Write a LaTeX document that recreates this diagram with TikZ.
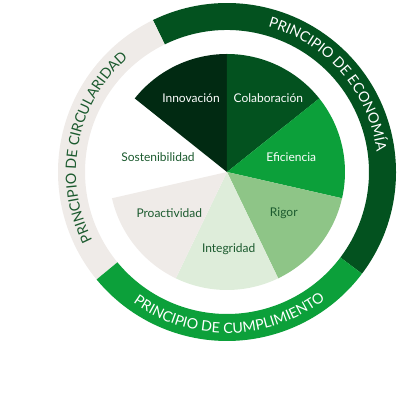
\documentclass[tikz,border=0pt]{standalone}
\usepackage{fontspec}
\setmainfont{Lato}
\usetikzlibrary{decorations.text}

\definecolor{negroverde}{HTML}{012A12}
\definecolor{verdeoscuro}{HTML}{03521F}
\definecolor{verdevivo}{HTML}{0CA03A}
\definecolor{verdemedio}{HTML}{8EC587}
\definecolor{verdeclaro}{HTML}{DEEDDA}
\definecolor{grisclaro}{HTML}{EFEBE8}
\definecolor{textoverde}{HTML}{1B5A2E}

\newcommand{\ringfont}{\fontsize{14.3}{16}\selectfont}

\begin{document}
\begin{tikzpicture}[x=1pt, y=1pt,
  lbl/.style={font=\fontsize{12}{14}\selectfont, inner sep=0pt},
  ringtext/.style 2 args={decorate, decoration={text along path, text align=center, text color=#1, text={|\ringfont|#2}}}]
  \useasboundingbox (-227,-229) rectangle (180,172);

  % 外側のリング
  \fill[verdeoscuro] (-37:169) arc[start angle=-37, end angle=116, radius=169] -- (116:142) arc[start angle=116, end angle=-37, radius=142] -- cycle;
  \fill[grisclaro] (116:169) arc[start angle=116, end angle=219.5, radius=169] -- (219.5:142) arc[start angle=219.5, end angle=116, radius=142] -- cycle;
  \fill[verdevivo] (219.5:169) arc[start angle=219.5, end angle=323, radius=169] -- (323:142) arc[start angle=323, end angle=219.5, radius=142] -- cycle;

  % リングの文字
  \path[ringtext={white}{PRINCIPIO DE ECONOMÍA}] (85:151) arc[start angle=85, end angle=-3, radius=151];
  \path[ringtext={white}{PRINCIPIO DE CUMPLIMIENTO}] (200:161) arc[start angle=200, end angle=342, radius=161];
  \path[ringtext={textoverde}{PRINCIPIO DE CIRCULARIDAD}] (218:151) arc[start angle=218, end angle=120, radius=151];

  % 円グラフ
  \fill[negroverde] (0,0) -- (90:118) arc[start angle=90, end angle=141.43, radius=118] -- cycle;
  \fill[verdeoscuro] (0,0) -- (38.57:118) arc[start angle=38.57, end angle=90, radius=118] -- cycle;
  \fill[verdevivo] (0,0) -- (-12.86:118) arc[start angle=-12.86, end angle=38.57, radius=118] -- cycle;
  \fill[verdemedio] (0,0) -- (-64.29:118) arc[start angle=-64.29, end angle=-12.86, radius=118] -- cycle;
  \fill[verdeclaro] (0,0) -- (-115.71:118) arc[start angle=-115.71, end angle=-64.29, radius=118] -- cycle;
  \fill[grisclaro] (0,0) -- (-167.14:118) arc[start angle=-167.14, end angle=-115.71, radius=118] -- cycle;

  % ラベル
  \node[lbl, text=white] (innov) at (-36,73.7) {Innovación};
  \node[lbl, text=white] (colab) at (41.3,73.7) {Colaboración};
  \node[lbl, text=white] (efic) at (64.3,14.7) {Eficiencia};
  \node[lbl, text=textoverde] (soste) at (-69,14.7) {Sostenibilidad};
  \node[lbl, text=textoverde] (proac) at (-57.7,-41.3) {Proactividad};
  \node[lbl, text=textoverde] (rigor) at (56.8,-41.3) {Rigor};
  \node[lbl, text=textoverde] (integ) at (1.7,-77.3) {Integridad};
\end{tikzpicture}
\end{document}
